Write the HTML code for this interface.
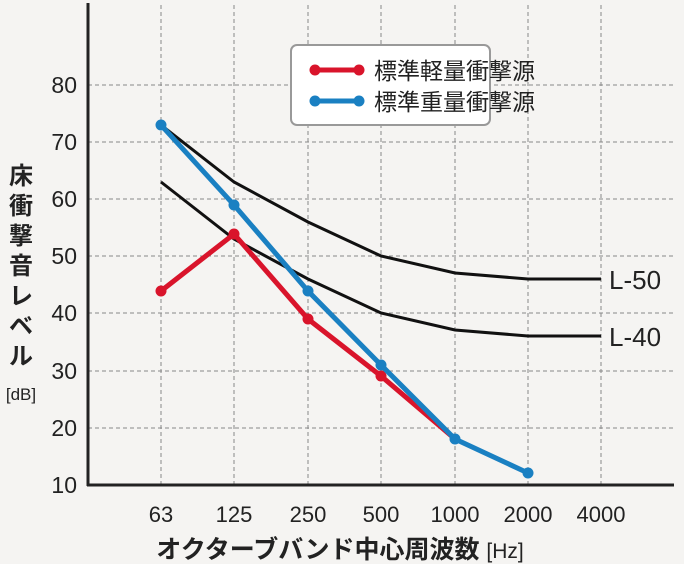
<!DOCTYPE html><html><head><meta charset="utf-8"><style>body{margin:0;background:#f5f4f2}svg{display:block}text{font-family:"Liberation Sans","Noto Sans CJK JP",sans-serif;fill:#222}</style></head><body>
<svg width="684" height="564" viewBox="0 0 684 564">
<rect width="684" height="564" fill="#f5f4f2"/>
<g stroke="#888" stroke-dasharray="4,3" stroke-width="1">
<line x1="161" y1="5" x2="161" y2="485"/><line x1="234" y1="5" x2="234" y2="485"/><line x1="308" y1="5" x2="308" y2="485"/><line x1="381" y1="5" x2="381" y2="485"/><line x1="455" y1="5" x2="455" y2="485"/><line x1="528" y1="5" x2="528" y2="485"/><line x1="601" y1="5" x2="601" y2="485"/>
<line x1="88" y1="85" x2="673" y2="85"/><line x1="88" y1="142" x2="673" y2="142"/><line x1="88" y1="199" x2="673" y2="199"/><line x1="88" y1="256" x2="673" y2="256"/><line x1="88" y1="313" x2="673" y2="313"/><line x1="88" y1="371" x2="673" y2="371"/><line x1="88" y1="428" x2="673" y2="428"/>
</g>
<line x1="88" y1="3" x2="88" y2="486" stroke="#222" stroke-width="3"/>
<line x1="87" y1="485" x2="674" y2="485" stroke="#222" stroke-width="3"/>
<g font-size="23" text-anchor="end"><text x="77" y="93">80</text><text x="77" y="150">70</text><text x="77" y="207">60</text><text x="77" y="264">50</text><text x="77" y="321">40</text><text x="77" y="379">30</text><text x="77" y="436">20</text><text x="77" y="493">10</text></g>
<g font-size="22" text-anchor="middle"><text x="161" y="522">63</text><text x="234" y="522">125</text><text x="308" y="522">250</text><text x="381" y="522">500</text><text x="455" y="522">1000</text><text x="528" y="522">2000</text><text x="601" y="522">4000</text></g>
<text x="340" y="558" font-size="25" text-anchor="middle" font-weight="bold">オクターブバンド中心周波数 <tspan font-weight="normal" font-size="21">[Hz]</tspan></text>
<g font-size="24" text-anchor="middle" font-weight="bold"><text x="21" y="184">床</text><text x="21" y="214">衝</text><text x="21" y="244">撃</text><text x="21" y="274">音</text><text x="21" y="304">レ</text><text x="21" y="334">ベ</text><text x="21" y="364">ル</text></g>
<text x="21" y="400" font-size="17" text-anchor="middle">[dB]</text>
<g fill="none" stroke="#111" stroke-width="3">
<polyline points="161,125 234,182 308,222 381,256 455,273 528,279 601,279"/>
<polyline points="161,182 234,239 308,279 381,313 455,330 528,336 601,336"/>
</g>
<text x="609" y="289" font-size="26">L-50</text><text x="609" y="346" font-size="26">L-40</text>
<g stroke="#d9142b" stroke-width="5" fill="none"><polyline points="161,291 234,234 308,319 381,376 455,439"/></g>
<g fill="#d9142b"><circle cx="161" cy="291" r="5.5"/><circle cx="234" cy="234" r="5.5"/><circle cx="308" cy="319" r="5.5"/><circle cx="381" cy="376" r="5.5"/></g>
<g stroke="#1a80c2" stroke-width="5" fill="none"><polyline points="161,125 234,205 308,291 381,365 455,439 528,473"/></g>
<g fill="#1a80c2"><circle cx="161" cy="125" r="5.5"/><circle cx="234" cy="205" r="5.5"/><circle cx="308" cy="291" r="5.5"/><circle cx="381" cy="365" r="5.5"/><circle cx="455" cy="439" r="5.5"/><circle cx="528" cy="473" r="5.5"/></g>
<rect x="291" y="45" width="199" height="80" rx="6" fill="#fff" stroke="#999" stroke-width="2"/>
<line x1="311" y1="70" x2="363" y2="70" stroke="#d9142b" stroke-width="5"/><circle cx="315" cy="70" r="5.5" fill="#d9142b"/><circle cx="359" cy="70" r="5.5" fill="#d9142b"/>
<line x1="311" y1="101" x2="363" y2="101" stroke="#1a80c2" stroke-width="5"/><circle cx="315" cy="101" r="5.5" fill="#1a80c2"/><circle cx="359" cy="101" r="5.5" fill="#1a80c2"/>
<text x="374" y="79" font-size="23">標準軽量衝撃源</text><text x="374" y="110" font-size="23">標準重量衝撃源</text>
</svg></body></html>
